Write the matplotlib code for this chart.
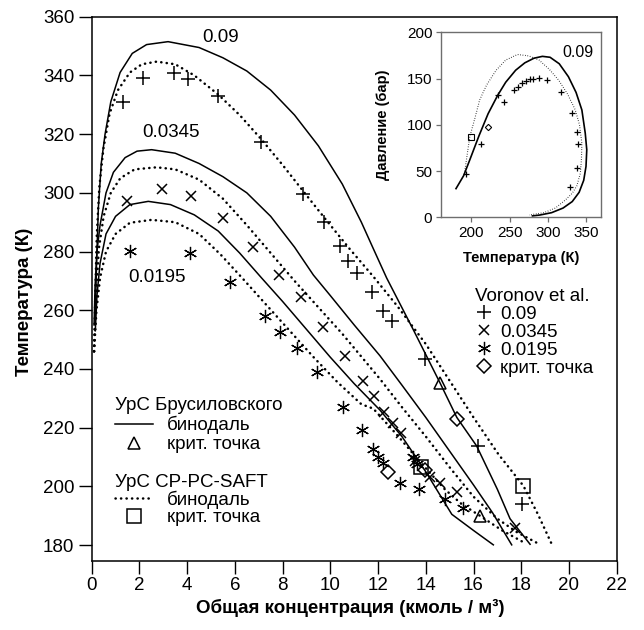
import matplotlib
matplotlib.use("Agg")
import matplotlib.pyplot as plt
from matplotlib.lines import Line2D

plt.rcParams['font.family'] = ['Liberation Sans', 'DejaVu Sans']

# ---------------- main plot data: (concentration, temperature) ----------------
# Brusilovsky EoS binodals (solid)
b09_x = [0.15, 0.2, 0.28, 0.4, 0.56, 0.8, 1.19, 1.7, 2.3, 3.2, 4.5, 5.5, 6.5, 7.5, 8.5, 9.5,
         10.5, 11.3, 11.8, 12.36, 13.5, 14.6, 15.3, 16.13, 17.0, 17.53, 18.37]
b09_T = [258, 275, 295, 310, 320, 331, 341, 347.5, 350.5, 351.5, 349.5, 346, 341.5, 335, 326.5, 316,
         303, 290, 281, 271, 253, 235.2, 223.5, 213.8, 199, 189, 180.3]
b0345_x = [0.1, 0.14, 0.22, 0.35, 0.6, 0.91, 1.4, 1.9, 2.51, 3.5, 4.5, 5.5, 6.5, 7.5, 8.5, 9.29,
           10.0, 11.0, 12.08, 13.0, 14.0, 15.0, 16.0, 16.8, 17.6]
b0345_T = [255, 268, 280, 289, 300, 307, 312, 314.2, 314.7, 313.5, 310, 305.5, 300, 292, 281.5, 272,
           265, 255, 244.5, 234.5, 223.5, 212, 200.5, 191, 180.1]
b0195_x = [0.15, 0.22, 0.35, 0.6, 1.0, 1.6, 2.37, 3.3, 4.3, 5.3, 6.2, 7.12, 8.0, 9.0, 10.0, 11.0,
           12.08, 13.0, 14.0, 15.09, 16.0, 16.83]
b0195_T = [253, 265, 276, 286, 292, 296, 297.1, 296, 292.5, 287, 279.5, 271, 263, 253.5, 244, 235,
           226, 217, 205, 190.5, 185, 180.1]

# CP-PC-SAFT binodals (dotted)
s09_x = [0.1, 0.15, 0.21, 0.32, 0.49, 0.75, 1.1, 1.6, 2.1, 2.72, 3.5, 4.3, 5.3, 6.2, 7.08, 8.0,
         8.87, 9.8, 10.8, 11.8, 12.8, 14.0, 15.0, 16.0, 17.04, 18.09, 18.7, 19.28]
s09_T = [246, 265, 285, 302, 315, 327, 335, 341, 343.8, 344.7, 343.8, 340, 333.5, 326.5, 318.5, 309.5,
         300.5, 291, 281, 271.5, 261.5, 248.5, 236, 223.5, 211, 200.2, 190.5, 180.3]
s0345_x = [0.1, 0.18, 0.3, 0.5, 0.8, 1.2, 1.8, 2.72, 3.5, 4.5, 5.5, 6.5, 7.5, 8.5, 9.5, 10.5,
           12.08, 13.0, 14.0, 15.0, 16.0, 17.0, 17.8, 18.65]
s0345_T = [246, 265, 281, 292, 300, 305, 308, 308.7, 308, 304.5, 298, 289, 279.5, 270, 261, 252,
           236.6, 227, 217, 206.5, 196.5, 189, 184.5, 180.8]
s0195_x = [0.1, 0.2, 0.35, 0.6, 1.0, 1.6, 2.51, 3.5, 4.5, 5.4, 6.35, 7.3, 8.3, 9.3, 10.3, 11.3,
           11.8, 12.8, 13.8, 14.8, 15.5, 16.27, 17.2, 18.2]
s0195_T = [246, 260, 271, 280, 286, 289.8, 290.8, 290, 286, 279, 270.6, 262, 253, 244, 235.5, 228,
           226.5, 217.5, 208, 199, 194, 190, 185, 180.5]

# Voronov et al. experimental points
v09_x = [1.33, 2.16, 3.45, 4.05, 5.31, 7.08, 8.87, 9.73, 10.4, 10.75, 11.13, 11.73, 12.19, 12.57,
         13.97, 16.2, 18.04]
v09_T = [330.8, 339.1, 340.8, 338.8, 332.9, 317.4, 299.6, 290.2, 282, 276.9, 272.6, 266.1, 259.8,
         256.4, 243.4, 213.8, 194]
v0345_x = [1.49, 2.93, 4.16, 5.49, 6.75, 7.86, 8.76, 9.71, 10.61, 11.38, 11.83, 12.25, 12.64,
           12.95, 13.55, 14.18, 14.6, 15.32, 17.74]
v0345_T = [297.3, 301.3, 298.8, 291.3, 281.4, 272, 264.4, 254.2, 244.3, 236, 230.7, 225.4, 221.6,
           218.2, 208.5, 203.1, 201.1, 198, 186]
v0195_x = [1.6, 4.12, 5.8, 7.26, 7.89, 8.59, 9.43, 10.54, 11.31, 11.8, 12.01, 12.22, 12.92,
           13.48, 13.62, 13.7, 14.8, 15.57]
v0195_T = [280.1, 279.5, 269.5, 258.1, 252.7, 247, 238.9, 227.1, 219.2, 212.7, 209.9, 207.9, 201.1,
           209.9, 207.5, 199.1, 195.7, 192.5]
vcrit_x = [12.43, 13.97, 15.29]
vcrit_T = [204.8, 205.7, 222.9]
bcrit_x = [14.6, 16.27]
bcrit_T = [235.2, 190.0]
scrit_x = [18.09, 13.8]
scrit_T = [200.2, 206.5]

# ---------------- inset data: (temperature, pressure) for 0.09 ----------------
ib_T = [180, 190, 198, 210, 222, 234.6, 245, 258, 270, 282, 293, 303, 315, 327, 337, 344.6, 349,
        351, 350, 347, 341, 332, 320, 305, 290, 280]
ib_P = [31, 45, 62, 88, 112, 132, 146, 159, 167, 172, 174, 173, 166, 152, 135, 116, 91,
        73, 55, 40, 27, 17, 10, 5, 2.5, 1.5]
is_T = [191, 198, 205, 211, 220, 232.5, 245, 260.5, 275, 288.6, 302, 314.5, 326, 336, 341.5, 344.6,
        344, 342.6, 338, 332, 323, 310, 295, 275.6]
is_P = [47, 87, 108, 127, 143, 159, 170, 176, 174.5, 170, 160, 148, 133, 116, 100, 80,
        62, 47.6, 34, 26, 18.7, 10, 5, 2.5]
iv_T = [193.7, 213.1, 234.6, 243.3, 255.3, 260.5, 266, 271.4, 276.5, 280.8, 288.6, 299.3, 317.1,
        331.7, 337.8, 339.5, 338.2, 329.6]
iv_P = [46.5, 79.2, 132, 125, 137.6, 141.2, 145, 147.7, 149.2, 149.5, 150.3, 148.4, 135.8,
        113.1, 92.5, 79.2, 53, 33.1]
isq_T, isq_P = [200.1], [87.1]
idm_T, idm_P = [222.5], [97.3]

xticks = list(range(0, 23, 2))
yticks = list(range(180, 361, 20))
ixticks = [200, 250, 300, 350]
iyticks = [0, 50, 100, 150, 200]

# ---------------- figure ----------------
W, H = 644, 630
fig = plt.figure(figsize=(W / 100, H / 100), dpi=100)
ax = fig.add_axes([91.7 / W, (H - 560.7) / H, 525 / W, 544 / H])

DOT = dict(color='black', lw=1.8, linestyle=(0, (0.1, 2.1)), dash_capstyle='round')
SOL = dict(color='black', lw=1.1)

for xs, ts in [(b09_x, b09_T), (b0345_x, b0345_T), (b0195_x, b0195_T)]:
    ax.plot(xs, ts, **SOL)
for xs, ts in [(s09_x, s09_T), (s0345_x, s0345_T), (s0195_x, s0195_T)]:
    ax.plot(xs, ts, **DOT)

star = (6, 2, 0)
ax.plot(v09_x, v09_T, ls='none', marker='+', ms=10, mew=1.1, color='k')
ax.plot(v0345_x, v0345_T, ls='none', marker='x', ms=7.5, mew=1.1, color='k')
ax.plot(v0195_x, v0195_T, ls='none', marker=star, ms=9.5, mew=0.9, color='k')
ax.plot(vcrit_x, vcrit_T, ls='none', marker='D', ms=7, mew=1.1, mfc='none', mec='k')
ax.plot(bcrit_x, bcrit_T, ls='none', marker='^', ms=9, mew=1.1, mfc='none', mec='k')
ax.plot(scrit_x, scrit_T, ls='none', marker='s', ms=10.5, mew=1.1, mfc='none', mec='k')

ax.text(5.4, 353, '0.09', fontsize=13.5, ha='center', va='center')
ax.text(3.34, 320.6, '0.0345', fontsize=13.5, ha='center', va='center')
ax.text(2.74, 271.2, '0.0195', fontsize=13.5, ha='center', va='center')

ax.set_xlim(0, 22)
ax.set_ylim(174.7, 360)
ax.set_xticks(xticks)
ax.set_yticks(yticks)
ax.tick_params(direction='out', length=9.5, width=1.0, labelsize=13.5, pad=3)
ax.tick_params(axis='x', pad=2.5)
for s in ax.spines.values():
    s.set_linewidth(1.1)

ax.set_xlabel('Общая концентрация (кмоль / м³)', fontsize=13.5, fontweight='bold')
ax.set_ylabel('Температура (К)', fontsize=13.5, fontweight='bold')
ax.xaxis.set_label_coords(0.492, -0.070)
ax.yaxis.set_label_coords(-0.112, 0.475)

# legends
LEGKW = dict(loc='upper left', frameon=False, fontsize=13.5, title_fontsize=13.5,
             borderpad=0, borderaxespad=0)
h1 = [Line2D([], [], **SOL),
      Line2D([], [], ls='none', marker='^', ms=9, mew=1.1, mfc='none', mec='k')]
leg1 = ax.legend(h1, ['бинодаль', 'крит. точка'], title='УрС Брусиловского',
                 bbox_to_anchor=(0.044, 0.301), handlelength=2.05, handletextpad=0.75,
                 labelspacing=0.1, **LEGKW)
leg1._legend_box.align = 'left'
ax.add_artist(leg1)

h2 = [Line2D([], [], **DOT),
      Line2D([], [], ls='none', marker='s', ms=10.5, mew=1.1, mfc='none', mec='k')]
leg2 = ax.legend(h2, ['бинодаль', 'крит. точка'], title='УрС CP-PC-SAFT',
                 bbox_to_anchor=(0.044, 0.160), handlelength=2.05, handletextpad=0.75,
                 labelspacing=0.0, **LEGKW)
leg2._legend_box.align = 'left'
ax.add_artist(leg2)

h3 = [Line2D([], [], ls='none', marker='+', ms=10, mew=1.1, color='k'),
      Line2D([], [], ls='none', marker='x', ms=7.5, mew=1.1, color='k'),
      Line2D([], [], ls='none', marker=star, ms=9.5, mew=0.9, color='k'),
      Line2D([], [], ls='none', marker='D', ms=7, mew=1.1, mfc='none', mec='k')]
leg3 = ax.legend(h3, ['0.09', '0.0345', '0.0195', 'крит. точка'], title='Voronov et al.',
                 bbox_to_anchor=(0.730, 0.502), handlelength=1.0, handletextpad=0.35,
                 labelspacing=0.05, **LEGKW)
leg3._legend_box.align = 'left'

# ---------------- inset ----------------
GRAY = '#6e6e6e'
ia = fig.add_axes([440.7 / W, (H - 217.3) / H, (601.3 - 440.7) / W, (217.3 - 32.3) / H])
ia.plot(ib_T, ib_P, color='black', lw=1.2)
ia.plot(is_T, is_P, color='black', lw=0.8, linestyle=(0, (0.6, 1.6)))
ia.plot(iv_T, iv_P, ls='none', marker='+', ms=5, mew=0.9, color='k')
ia.plot(isq_T, isq_P, ls='none', marker='s', ms=4, mew=0.8, mfc='none', mec='k')
ia.plot(idm_T, idm_P, ls='none', marker='D', ms=3.2, mew=0.8, mfc='none', mec='k')
ia.text(340, 178, '0.09', fontsize=11.5, ha='center', va='center')
ia.set_xlim(160, 370)
ia.set_ylim(0, 200)
ia.set_xticks(ixticks)
ia.set_yticks(iyticks)
ia.tick_params(direction='out', length=3.5, width=0.9, labelsize=11, pad=2.5, color=GRAY)
for s in ia.spines.values():
    s.set_color(GRAY)
    s.set_linewidth(1.0)
ia.set_xlabel('Температура (К)', fontsize=10.5, fontweight='bold', labelpad=8)
ia.set_ylabel('Давление (бар)', fontsize=10.5, fontweight='bold', labelpad=12)

fig.savefig('out.png', dpi=100)
